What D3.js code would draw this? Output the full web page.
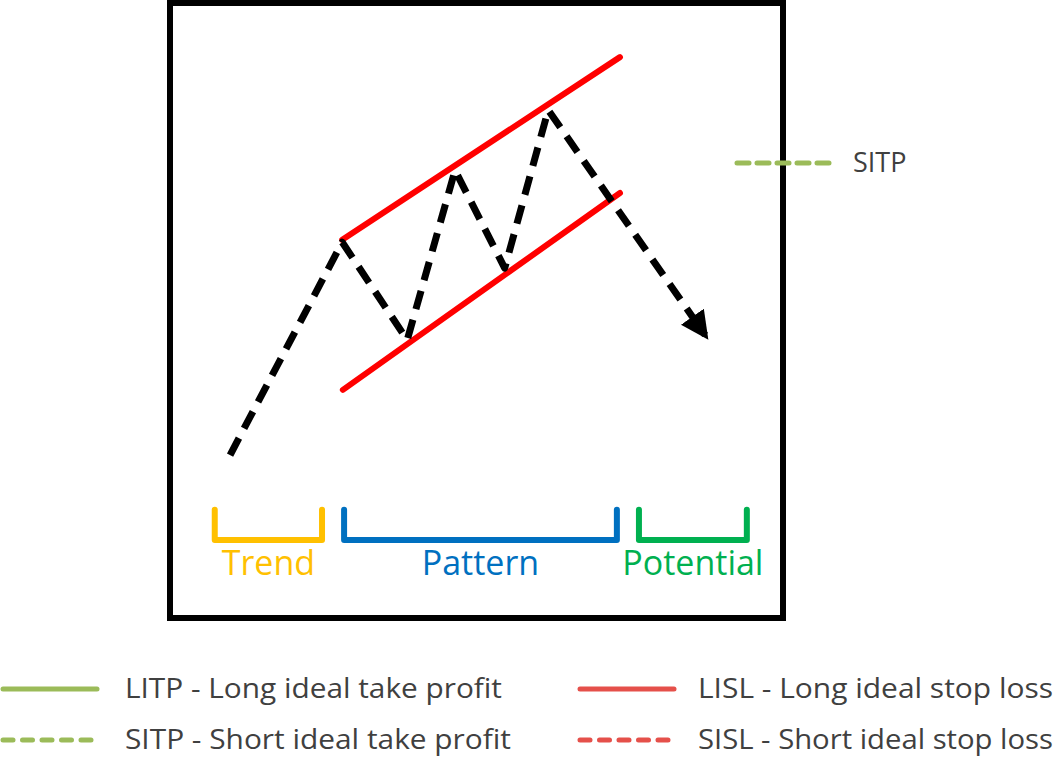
<!DOCTYPE html>
<html><head><meta charset="utf-8">
<script src="https://cdn.jsdelivr.net/npm/d3@7"></script>
<style>body{margin:0;background:#fff}svg{display:block;font-family:"Open Sans",sans-serif}</style>
</head><body><svg id="c" width="1060" height="758"></svg>
<script>
// Diagram units: x 0..100 across the frame, y 0..100 bottom to top
const pricePath = [[9.8,26.5],[28.1,61.1],[38.7,45.2],[46.5,72.8],[54.6,56.9],[61.7,82.6],[87.3,46.0]];
const channelLines = [[[28.1,61.5],[73.4,91.2]],[[28.2,37.1],[73.4,69.1]]];
const phases = ["Trend","Pattern","Potential"];
const phaseStart = [7.3,28.4,76.5];
const phaseEnd = [24.8,72.9,94.1];
const phaseColors = ["#ffc000","#0070c0","#00b050"];
const legendLabels = ["LITP - Long ideal take profit","LISL - Long ideal stop loss","SITP - Short ideal take profit","SISL - Short ideal stop loss"];
const legendColors = ["#9bbb59","#e5504a","#9bbb59","#e5504a"];
const legendDashed = [false,false,true,true];

const svg = d3.select("#c");
const x = d3.scaleLinear().domain([0,100]).range([170,783]);
const y = d3.scaleLinear().domain([0,100]).range([618,3]);

svg.append("rect").attr("x",x(0)).attr("y",y(100)).attr("width",x(100)-x(0)).attr("height",y(0)-y(100))
  .attr("fill","none").attr("stroke","#000").attr("stroke-width",6);

svg.append("defs").append("marker").attr("id","ah").attr("viewBox","0 0 10 10").attr("refX",8).attr("refY",5)
  .attr("markerWidth",4).attr("markerHeight",4).attr("orient","auto").attr("markerUnits","strokeWidth")
  .append("path").attr("d","M0,0L10,5L0,10z").attr("fill","#000");

const line = d3.line().x(d=>x(d[0])).y(d=>y(d[1]));
channelLines.forEach(l=>svg.append("path").attr("d",line(l)).attr("stroke","#ff0000").attr("stroke-width",6)
  .attr("stroke-linecap","round").attr("fill","none"));
svg.append("path").attr("d",line(pricePath)).attr("fill","none").attr("stroke","#000").attr("stroke-width",7)
  .attr("stroke-dasharray","19,11").attr("stroke-linejoin","round").attr("marker-end","url(#ah)");

phases.forEach((p,i)=>{
  const x0=x(phaseStart[i]), x1=x(phaseEnd[i]), yt=y(17.6), yb=y(12.7);
  svg.append("path").attr("d",`M${x0},${yt}V${yb}H${x1}V${yt}`).attr("fill","none").attr("stroke",phaseColors[i])
    .attr("stroke-width",6).attr("stroke-linejoin","round").attr("stroke-linecap","round");
  svg.append("text").attr("x",(x0+x1)/2).attr("y",y(8.9)).attr("dy","0.35em").attr("text-anchor","middle")
    .attr("fill",phaseColors[i]).attr("font-size",34).text(p);
});

// SITP marker
svg.append("line").attr("x1",737).attr("x2",829).attr("y1",y(74)).attr("y2",y(74)).attr("stroke","#9bbb59")
  .attr("stroke-width",5).attr("stroke-dasharray","12,8").attr("stroke-linecap","round");
svg.append("text").attr("x",853).attr("y",y(74)).attr("dy","0.35em").attr("font-size",27).attr("fill","#404040").text("SITP");

legendLabels.forEach((t,i)=>{
  const col=i%2, row=Math.floor(i/2);
  const lx = col? 580:3, ly = row? 740:689, tx = col? 698:125;
  svg.append("line").attr("x1",lx).attr("x2",lx+94).attr("y1",ly).attr("y2",ly).attr("stroke",legendColors[i])
    .attr("stroke-width",5).attr("stroke-linecap","round").attr("stroke-dasharray",legendDashed[i]?"10,9.5":null);
  svg.append("text").attr("x",tx).attr("y",ly).attr("dy","0.35em").attr("font-size",27).attr("fill","#404040")
    .attr("textLength",col?355:(row?386:377)).attr("lengthAdjust","spacingAndGlyphs").text(t);
});
</script></body></html>
